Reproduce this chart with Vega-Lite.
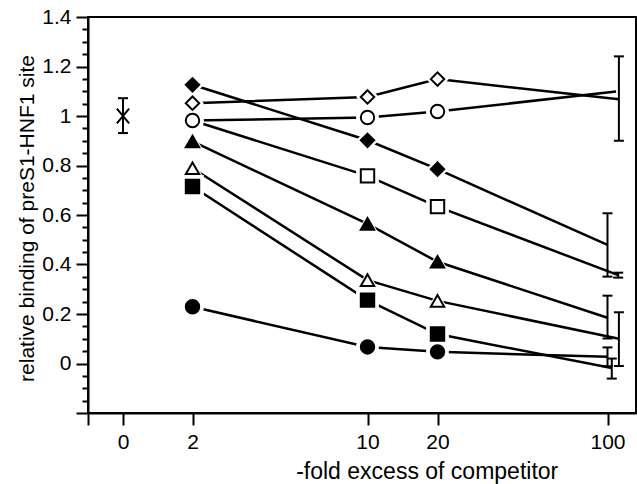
{
  "$schema": "https://vega.github.io/schema/vega-lite/v6.json",
  "width": 548,
  "height": 396,
  "autosize": "none",
  "padding": {"left": 88, "top": 17, "right": 1, "bottom": 71},
  "config": {
    "view": {"stroke": "black", "strokeWidth": 2},
    "font": "Liberation Sans",
    "axis": {
      "domainColor": "black", "domainWidth": 2,
      "tickColor": "black", "tickWidth": 2,
      "labelColor": "black", "titleColor": "black",
      "labelFont": "Liberation Sans", "titleFont": "Liberation Sans",
      "labelFontSize": 21, "titleFontSize": 22, "titleFontWeight": "normal",
      "grid": false, "labelOverlap": false, "labelBound": false, "labelFlush": false
    }
  },
  "data": {
    "values": [
      {"series": "filled diamond", "fold": 2, "binding": 1.126},
      {"series": "filled diamond", "fold": 10, "binding": 0.902},
      {"series": "filled diamond", "fold": 20, "binding": 0.785},
      {"series": "filled diamond", "fold": 100, "binding": 0.479, "lo": 0.351, "hi": 0.607},
      {"series": "open diamond", "fold": 2, "binding": 1.052},
      {"series": "open diamond", "fold": 10, "binding": 1.077},
      {"series": "open diamond", "fold": 20, "binding": 1.149},
      {"series": "open diamond", "fold": 108, "binding": 1.068, "lo": 0.9, "hi": 1.241},
      {"series": "open circle", "fold": 2, "binding": 0.982},
      {"series": "open circle", "fold": 10, "binding": 0.994},
      {"series": "open circle", "fold": 20, "binding": 1.018},
      {"series": "open circle", "fold": 106, "binding": 1.099},
      {"series": "open square", "fold": 2, "binding": 0.982},
      {"series": "open square", "fold": 10, "binding": 0.758},
      {"series": "open square", "fold": 20, "binding": 0.634},
      {"series": "open square", "fold": 107.5, "binding": 0.357, "lo": 0.347, "hi": 0.367},
      {"series": "filled triangle", "fold": 2, "binding": 0.897},
      {"series": "filled triangle", "fold": 10, "binding": 0.564},
      {"series": "filled triangle", "fold": 20, "binding": 0.411},
      {"series": "filled triangle", "fold": 100, "binding": 0.185, "lo": 0.101, "hi": 0.274},
      {"series": "open triangle", "fold": 2, "binding": 0.789},
      {"series": "open triangle", "fold": 10, "binding": 0.337},
      {"series": "open triangle", "fold": 20, "binding": 0.253},
      {"series": "open triangle", "fold": 108, "binding": 0.1, "lo": -0.01, "hi": 0.207},
      {"series": "filled square", "fold": 2, "binding": 0.715},
      {"series": "filled square", "fold": 10, "binding": 0.256},
      {"series": "filled square", "fold": 20, "binding": 0.119},
      {"series": "filled square", "fold": 103, "binding": -0.018, "lo": -0.061, "hi": 0.02},
      {"series": "filled circle", "fold": 2, "binding": 0.229},
      {"series": "filled circle", "fold": 10, "binding": 0.067},
      {"series": "filled circle", "fold": 20, "binding": 0.047},
      {"series": "filled circle", "fold": 100, "binding": 0.027, "lo": -0.011, "hi": 0.065},
      {"series": "control", "fold": 0, "binding": 1.0, "lo": 0.931, "hi": 1.072}
    ]
  },
  "encoding": {
    "x": {
      "field": "fold", "type": "quantitative",
      "scale": {"domain": [-1, 0, 2, 10, 20, 100, 120], "range": [0, 35, 104.5, 279.5, 349.5, 519.5, 548], "nice": false, "zero": false},
      "axis": {
        "values": [-1, 0, 2, 10, 20, 100],
        "labelExpr": "datum.value < 0 ? '' : datum.label",
        "tickSize": 12, "labelPadding": 6,
        "title": "-fold excess of competitor", "titleFontSize": 23,
        "titleX": 338.7, "titleY": 65, "titleBaseline": "alphabetic", "titleAlign": "center"
      }
    },
    "y": {
      "field": "binding", "type": "quantitative",
      "scale": {"domain": [-0.2, 1.4], "nice": false, "zero": false},
      "axis": {
        "values": [-0.2, -0.15, -0.1, -0.05, 0, 0.05, 0.1, 0.15, 0.2, 0.25, 0.3, 0.35, 0.4, 0.45, 0.5, 0.55, 0.6, 0.65, 0.7, 0.75, 0.8, 0.85, 0.9, 0.95, 1, 1.05, 1.1, 1.15, 1.2, 1.25, 1.3, 1.35, 1.4],
        "labelExpr": "(abs(datum.value*5 - round(datum.value*5)) < 0.001 && datum.value > -0.01) ? format(datum.value, '.1~f') : ''",
        "tickSize": {"condition": {"test": "abs(datum.value*5 - round(datum.value*5)) < 0.001", "value": 12}, "value": 6},
        "labelPadding": 5,
        "title": "relative binding of preS1-HNF1 site", "titleFontSize": 21,
        "titleX": -55, "titleY": 201, "titleBaseline": "alphabetic", "titleAlign": "center", "titleAngle": -90
      }
    }
  },
  "layer": [
    {
      "transform": [{"filter": "datum.series != 'control'"}],
      "mark": {"type": "line", "color": "black", "strokeWidth": 2.5},
      "encoding": {"detail": {"field": "series"}}
    },
    {
      "transform": [{"filter": "datum.series != 'control' && datum.fold <= 20 && !(datum.series == 'open square' && datum.fold == 2)"}],
      "mark": {"type": "point", "filled": true, "fill": "white", "stroke": null, "opacity": 1, "size": 520},
      "encoding": {
        "shape": {"field": "series", "legend": null,
          "scale": {"domain": ["filled diamond", "open diamond", "open circle", "open square", "filled triangle", "open triangle", "filled square", "filled circle"],
                    "range": ["diamond", "diamond", "circle", "square", "triangle-up", "triangle-up", "square", "circle"]}}
      }
    },
    {
      "transform": [{"filter": "datum.series != 'control' && datum.fold <= 20 && !(datum.series == 'open square' && datum.fold == 2)"}],
      "mark": {"type": "point", "filled": true, "stroke": "black", "strokeWidth": 2, "opacity": 1, "size": 180},
      "encoding": {
        "shape": {"field": "series", "legend": null},
        "fill": {"field": "series", "legend": null,
          "scale": {"domain": ["filled diamond", "open diamond", "open circle", "open square", "filled triangle", "open triangle", "filled square", "filled circle"],
                    "range": ["black", "white", "white", "white", "black", "white", "black", "black"]}}
      }
    },
    {
      "transform": [{"filter": "isValid(datum.lo)"}],
      "mark": {"type": "rule", "color": "black", "strokeWidth": 2},
      "encoding": {
        "y": {"field": "lo", "type": "quantitative", "title": "relative binding of preS1-HNF1 site"},
        "y2": {"field": "hi"}
      }
    },
    {
      "transform": [{"filter": "isValid(datum.lo)"}],
      "mark": {"type": "tick", "orient": "horizontal", "color": "black", "thickness": 2, "size": 10, "opacity": 1},
      "encoding": {"y": {"field": "lo", "type": "quantitative", "title": "relative binding of preS1-HNF1 site"}}
    },
    {
      "transform": [{"filter": "isValid(datum.hi)"}],
      "mark": {"type": "tick", "orient": "horizontal", "color": "black", "thickness": 2, "size": 10, "opacity": 1},
      "encoding": {"y": {"field": "hi", "type": "quantitative", "title": "relative binding of preS1-HNF1 site"}}
    },
    {
      "transform": [{"filter": "datum.series == 'control'"}],
      "mark": {"type": "point", "shape": "M-1,-1.2L1,1.2M1,-1.2L-1,1.2", "filled": false, "stroke": "black", "strokeWidth": 2, "size": 150, "opacity": 1}
    }
  ]
}
